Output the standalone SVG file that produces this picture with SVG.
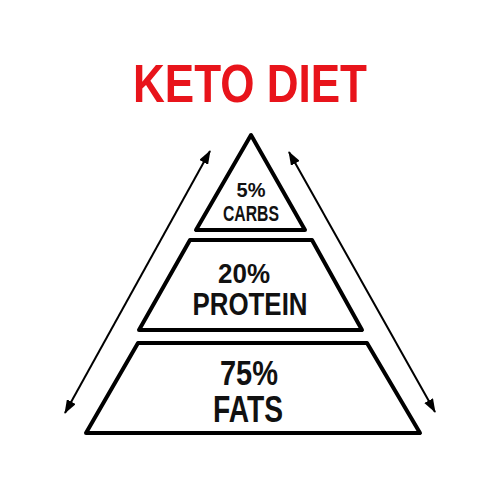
<svg xmlns="http://www.w3.org/2000/svg" width="500" height="500" viewBox="0 0 500 500">
<defs>
<marker id="ah" viewBox="0 0 14 10" refX="13" refY="5" markerWidth="14" markerHeight="10" markerUnits="userSpaceOnUse" orient="auto-start-reverse">
<path d="M0,0 L14,5 L0,10 Z" fill="#000"/>
</marker>
<style>
.tier{fill:#fff;stroke:#000;stroke-width:4;stroke-linejoin:round}
.lbl{font-family:"Liberation Sans",Arial,sans-serif;font-weight:bold;fill:#111;text-anchor:middle}
.conn{stroke:#000;stroke-width:2;fill:none}
</style>
</defs>
<rect width="500" height="500" fill="#fff"/>
<text x="250" y="102" text-anchor="middle" font-family="Liberation Sans, Arial, sans-serif" font-weight="bold" font-size="54" fill="#e8141b" textLength="234" lengthAdjust="spacingAndGlyphs">KETO DIET</text>
<g id="carbs">
<polygon class="tier" points="251,135 196,230 305,230"/>
<text class="lbl" x="251" y="197" font-size="20">5%</text>
<text class="lbl" x="251" y="221" font-size="22" textLength="56" lengthAdjust="spacingAndGlyphs">CARBS</text>
</g>
<g id="protein">
<polygon class="tier" points="190,240 312,240 362,330 139,330"/>
<text class="lbl" x="244" y="283" font-size="28" textLength="52" lengthAdjust="spacingAndGlyphs">20%</text>
<text class="lbl" x="250" y="315" font-size="32" textLength="115" lengthAdjust="spacingAndGlyphs">PROTEIN</text>
</g>
<g id="fats">
<polygon class="tier" points="138,343 367,343 420,433 86,433"/>
<text class="lbl" x="249" y="385" font-size="35" textLength="58" lengthAdjust="spacingAndGlyphs">75%</text>
<text class="lbl" x="248" y="422" font-size="36" textLength="70" lengthAdjust="spacingAndGlyphs">FATS</text>
</g>
<g id="connectors">
<line class="conn" x1="65" y1="413" x2="210" y2="151" marker-start="url(#ah)" marker-end="url(#ah)"/>
<line class="conn" x1="289" y1="152" x2="435" y2="412" marker-start="url(#ah)" marker-end="url(#ah)"/>
</g>
</svg>
